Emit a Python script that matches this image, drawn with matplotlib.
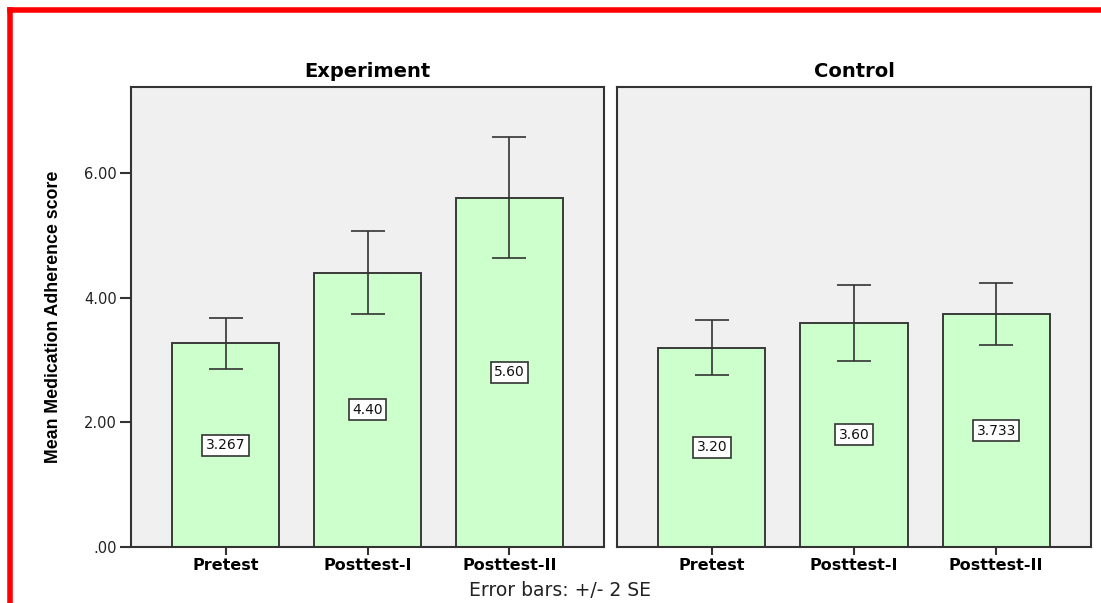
import numpy as np
import matplotlib
matplotlib.use("Agg")
import matplotlib.pyplot as plt
from matplotlib.lines import Line2D

# mean scores and +/- 2 SE half-widths per group
phases = ["Pretest", "Posttest-I", "Posttest-II"]
groups = ["Experiment", "Control"]
means = {"Experiment": [3.267, 4.40, 5.60], "Control": [3.20, 3.60, 3.733]}
labels = {"Experiment": ["3.267", "4.40", "5.60"], "Control": ["3.20", "3.60", "3.733"]}
err2se = {"Experiment": [0.41, 0.665, 0.97], "Control": [0.44, 0.61, 0.50]}
yticks = [0, 2, 4, 6]
ytick_labels = [".00", "2.00", "4.00", "6.00"]

W, H = 1101, 603
fig = plt.figure(figsize=(W / 100, H / 100), dpi=100)
fig.patch.set_facecolor("white")

# red frame along top and left edges
fig.add_artist(Line2D([10 / W, 1.0], [1 - 10 / H, 1 - 10 / H], color="#ff0000", lw=4, transform=fig.transFigure))
fig.add_artist(Line2D([10 / W, 10 / W], [0.0, 1 - 10 / H], color="#ff0000", lw=4, transform=fig.transFigure))

panel_x = [131, 617]
panel_w = [473, 474]
y_top, y_bot = 87, 547

x = np.arange(len(phases))
bold = dict(family="DejaVu Sans", weight="bold")
plain = dict(family="DejaVu Sans", stretch="normal")

for k, g in enumerate(groups):
    ax = fig.add_axes([panel_x[k] / W, (H - y_bot) / H, panel_w[k] / W, (y_bot - y_top) / H])
    ax.set_facecolor("#f0f0f0")
    ax.bar(x, means[g], width=0.755, color="#ccffcc", edgecolor="#3a3a3a", linewidth=1.4, zorder=2)
    ax.errorbar(x, means[g], yerr=err2se[g], fmt="none", ecolor="#333333",
                elinewidth=1.2, capsize=12.5, capthick=1.2, zorder=3)
    for xi, m, lab in zip(x, means[g], labels[g]):
        ax.text(xi, m / 2, lab, ha="center", va="center", fontsize=10, color="#111111", zorder=4,
                bbox=dict(boxstyle="square,pad=0.25", fc="white", ec="#333333", lw=1.2), **plain)
    ax.set_xlim(-0.667, 2.667)
    ax.set_ylim(0, 7.38)
    ax.set_xticks(x)
    ax.set_xticklabels(phases, fontsize=11.5, **bold)
    ax.tick_params(axis="x", length=6, width=1.5, color="#333333", pad=2)
    for s in ax.spines.values():
        s.set_color("#333333")
        s.set_linewidth(1.5)
    ax.set_title(g, fontsize=14, pad=7, **bold)
    if k == 0:
        ax.set_yticks(yticks)
        ax.set_yticklabels(ytick_labels, fontsize=10.5, color="#222222", **plain)
        ax.tick_params(axis="y", length=8, width=1.5, color="#333333", pad=2)
        ax.set_ylabel("Mean Medication Adherence score", fontsize=12.8, weight="bold",
                      family="Liberation Sans", labelpad=16)
    else:
        ax.set_yticks([])

fig.text(560 / W, 1 - 590 / H, "Error bars: +/- 2 SE", ha="center", va="center",
         fontsize=13.5, color="#222222", **plain)

fig.savefig("out.png", dpi=100)
